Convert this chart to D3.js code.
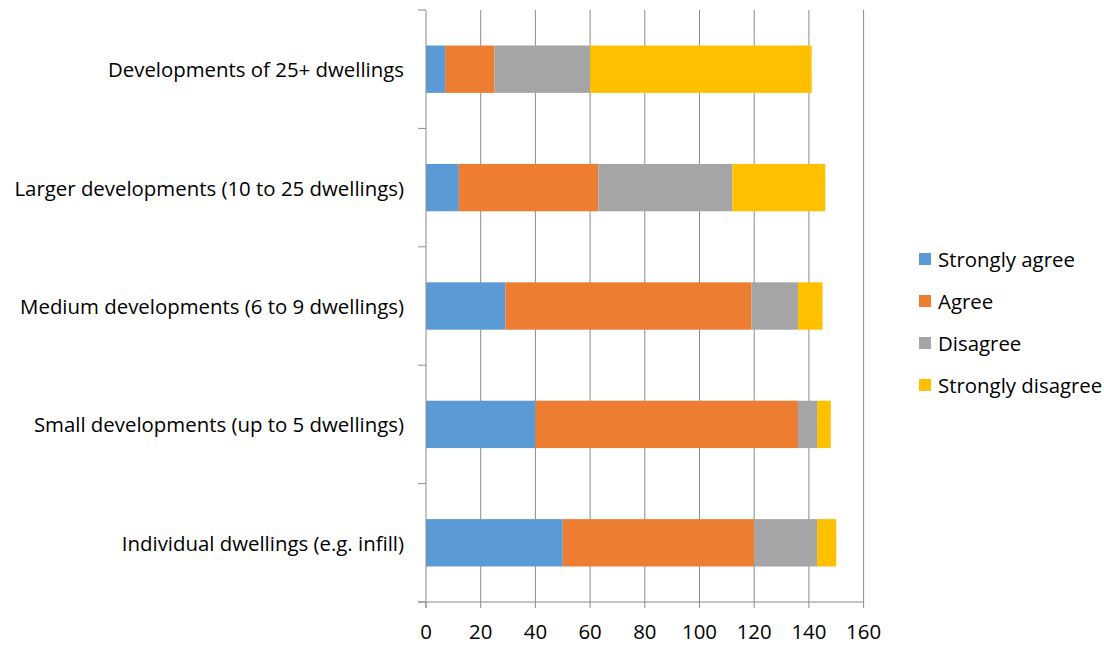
<!DOCTYPE html>
<html>
<head>
<meta charset="utf-8">
<script src="https://cdn.jsdelivr.net/npm/d3@7"></script>
<style>
  html, body { margin: 0; padding: 0; background: #fff; }
  svg { display: block; font-family: "Open Sans", "Lato", sans-serif; }
</style>
</head>
<body>
<svg id="chart" width="1104" height="645"></svg>
<script>
// Survey responses by development size (stacked horizontal bars)
const categories = [
  "Developments of 25+ dwellings",
  "Larger developments (10 to 25 dwellings)",
  "Medium developments (6 to 9 dwellings)",
  "Small developments (up to 5 dwellings)",
  "Individual dwellings (e.g. infill)"
];
const seriesNames = ["Strongly agree", "Agree", "Disagree", "Strongly disagree"];
const stronglyAgree    = [7, 12, 29, 40, 50];
const agree            = [18, 51, 90, 96, 70];
const disagree         = [35, 49, 17, 7, 23];
const stronglyDisagree = [81, 34, 9, 5, 7];
const xTicks = [0, 20, 40, 60, 80, 100, 120, 140, 160];
const colors = ["#5B9BD5", "#ED7D31", "#A5A5A5", "#FFC000"];

const rows = categories.map((c, i) => ({
  category: c,
  "Strongly agree": stronglyAgree[i],
  "Agree": agree[i],
  "Disagree": disagree[i],
  "Strongly disagree": stronglyDisagree[i]
}));

const svg = d3.select("#chart");
const plotLeft = 426, plotRight = 863.6, plotTop = 10, plotBottom = 602;
const fontSize = 20.4;

const x = d3.scaleLinear().domain([0, 160]).range([plotLeft, plotRight]);
const y = d3.scaleBand().domain(categories).range([plotTop, plotBottom])
  .paddingInner(0.6).paddingOuter(0.3);
const color = d3.scaleOrdinal().domain(seriesNames).range(colors);

const gridColor = "#8c8c8c";

// vertical gridlines
svg.append("g").selectAll("line").data(xTicks.slice(1)).join("line")
  .attr("x1", d => x(d)).attr("x2", d => x(d))
  .attr("y1", plotTop).attr("y2", plotBottom)
  .attr("stroke", gridColor).attr("stroke-width", 1);

// stacked bars
const stack = d3.stack().keys(seriesNames)(rows);
svg.append("g").selectAll("g").data(stack).join("g")
  .attr("fill", d => color(d.key))
  .selectAll("rect").data(d => d).join("rect")
  .attr("x", d => x(d[0]))
  .attr("width", d => x(d[1]) - x(d[0]))
  .attr("y", d => y(d.data.category))
  .attr("height", y.bandwidth());

// category axis with ticks at band boundaries
const boundaries = d3.range(categories.length + 1)
  .map(i => plotTop + i * (plotBottom - plotTop) / categories.length);
const yAxis = svg.append("g");
yAxis.append("line").attr("x1", plotLeft).attr("x2", plotLeft)
  .attr("y1", plotTop).attr("y2", plotBottom + 6)
  .attr("stroke", gridColor);
yAxis.selectAll("line.tk").data(boundaries).join("line").attr("class", "tk")
  .attr("x1", plotLeft - 8).attr("x2", plotLeft).attr("y1", d => d).attr("y2", d => d)
  .attr("stroke", gridColor);
yAxis.selectAll("text").data(categories).join("text")
  .attr("x", 404).attr("y", d => y(d) + y.bandwidth() / 2)
  .attr("text-anchor", "end").attr("dominant-baseline", "central")
  .attr("font-size", fontSize).attr("fill", "#000")
  .text(d => d);

// value axis
const xAxis = svg.append("g");
xAxis.append("line").attr("x1", plotLeft - 8).attr("x2", plotRight)
  .attr("y1", plotBottom).attr("y2", plotBottom)
  .attr("stroke", gridColor);
xAxis.selectAll("line.tk").data(xTicks).join("line").attr("class", "tk")
  .attr("x1", d => x(d)).attr("x2", d => x(d)).attr("y1", plotBottom).attr("y2", plotBottom + 6)
  .attr("stroke", gridColor);
xAxis.selectAll("text").data(xTicks).join("text")
  .attr("x", d => x(d)).attr("y", 638.5)
  .attr("text-anchor", "middle")
  .attr("font-size", fontSize).attr("fill", "#000")
  .text(d => d);

// legend
const legend = svg.append("g").selectAll("g").data(seriesNames).join("g")
  .attr("transform", (d, i) => `translate(919, ${259 + i * 42})`);
legend.append("rect").attr("x", 0).attr("y", -6).attr("width", 12).attr("height", 12)
  .attr("fill", d => color(d));
legend.append("text").attr("x", 19).attr("y", 0)
  .attr("dominant-baseline", "central").attr("font-size", fontSize).attr("fill", "#000")
  .text(d => d);
</script>
</body>
</html>
